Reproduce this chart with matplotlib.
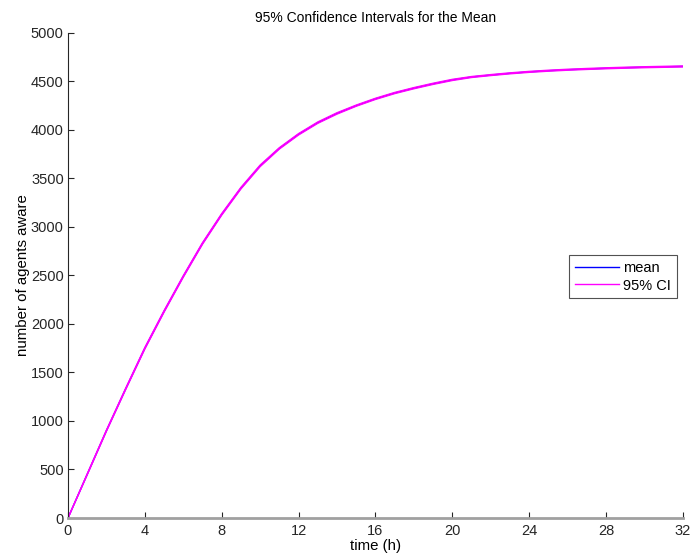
import matplotlib
matplotlib.use("Agg")
import matplotlib.pyplot as plt
import numpy as np

plt.rcParams["font.family"] = ["Liberation Sans", "DejaVu Sans"]

# hours and mean number of aware agents
hours = list(range(0, 33))
mean_aware = [0, 450, 900, 1330, 1750, 2130, 2490, 2830, 3130, 3400, 3630,
              3810, 3955, 4075, 4170, 4250, 4320, 4380, 4430, 4475, 4515,
              4545, 4565, 4583, 4598, 4610, 4620, 4628, 4635, 4641, 4646,
              4650, 4654]
ci_half = [0, 5, 6, 7, 8, 8, 8, 8, 8, 8, 8, 7, 7, 7, 7, 6, 6,
           6, 6, 6, 6, 5, 5, 5, 5, 5, 5, 5, 5, 5, 5, 5, 5]
x_ticks = [0, 4, 8, 12, 16, 20, 24, 28, 32]
y_ticks = [0, 500, 1000, 1500, 2000, 2500, 3000, 3500, 4000, 4500, 5000]

t = np.array(hours)
m = np.array(mean_aware)
h = np.array(ci_half)

fig = plt.figure(figsize=(6.91, 5.57), dpi=100)
ax = fig.add_axes([0.0984, 0.070, 0.890, 0.871])

ax.plot(t, m, color="#0000ff", lw=1.0, label="mean")
ax.plot(t, m + h, color="#ff00ff", lw=1.0, label="95% CI")
ax.plot(t, m - h, color="#ff00ff", lw=1.0)

ax.set_xlim(0, 32)
ax.set_ylim(0, 5000)
ax.set_xticks(x_ticks)
ax.set_yticks(y_ticks)
ax.tick_params(direction="in", length=4, labelsize=10.5, colors="#262626")
ax.tick_params(axis="x", pad=4)
ax.tick_params(axis="y", pad=3)
ax.spines["top"].set_visible(False)
ax.spines["right"].set_visible(False)
ax.spines["bottom"].set_color("#a0a0a0")
ax.spines["bottom"].set_linewidth(2)
ax.spines["left"].set_color("#262626")

ax.set_xlabel("time (h)", fontsize=10.8, labelpad=1)
ax.set_ylabel("number of agents aware", fontsize=10.8, labelpad=1)
ax.set_title("95% Confidence Intervals for the Mean", fontsize=10, pad=8)

leg = ax.legend(loc="upper right", bbox_to_anchor=(0.990, 0.542),
                fontsize=10.5, fancybox=False, edgecolor="#262626",
                handlelength=3.0, borderpad=0.4, labelspacing=0.25,
                handletextpad=0.3, borderaxespad=0)
leg.get_frame().set_linewidth(0.8)

fig.savefig("out.png", dpi=100)
